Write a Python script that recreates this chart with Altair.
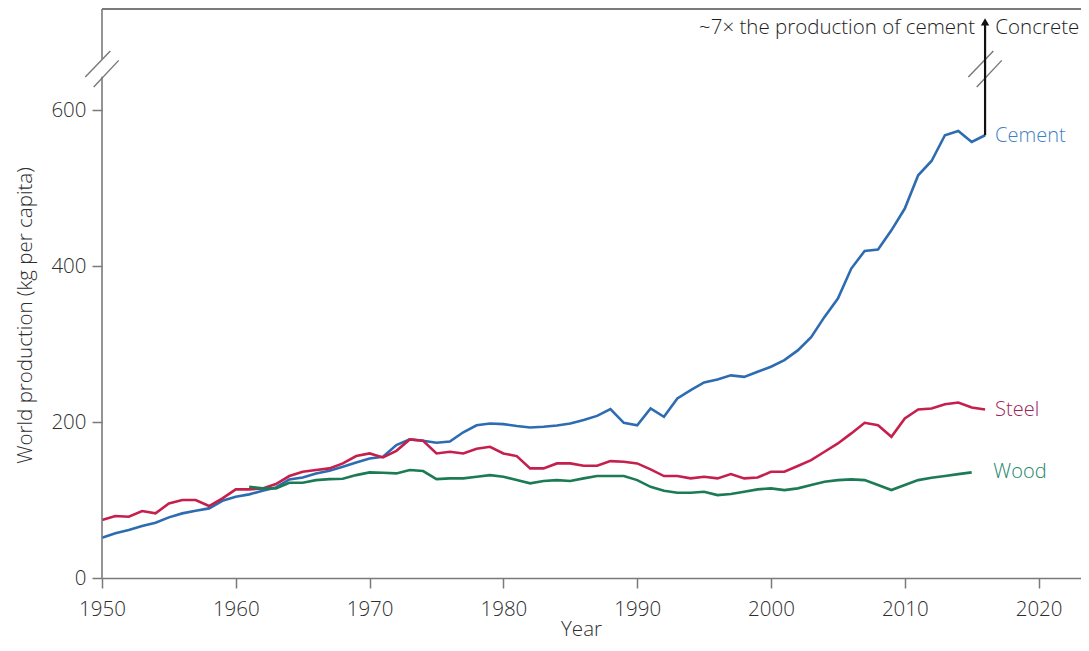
import altair as alt
import pandas as pd

# ---------------- data ----------------
cement_years = list(range(1950, 2017))
cement = [51.7, 57.3, 61.5, 66.7, 70.9, 77.8, 82.9, 86.3, 89.3, 99.1,
          104.3, 107.3, 112.0, 116.2, 126.5, 129.0, 134.2, 137.6, 142.7, 148.3,
          153.4, 155.6, 170.5, 177.8, 176.0, 173.5, 175.0, 187.0, 196.0, 198.3,
          197.4, 195.0, 193.0, 194.0, 195.7, 198.3, 202.6, 208.0, 216.7, 199.0,
          196.0, 217.5, 206.8, 230.3, 241.0, 250.9, 254.7, 260.0, 258.0, 264.5,
          271.0, 279.5, 292.0, 309.0, 335.0, 358.6, 397.0, 419.6, 421.4, 446.0,
          474.0, 516.7, 535.0, 568.0, 573.5, 559.4, 568.0]

steel_years = list(range(1950, 2017))
steel = [74.4, 79.5, 78.6, 85.9, 82.9, 95.7, 100.0, 100.0, 92.3, 102.1,
         113.7, 113.7, 115.0, 120.5, 130.8, 136.3, 138.5, 140.6, 147.0, 156.4,
         159.8, 154.7, 163.2, 177.8, 176.0, 159.8, 162.0, 159.8, 165.8, 168.4,
         159.8, 156.4, 140.6, 140.6, 147.0, 147.0, 144.0, 144.0, 150.0, 149.1,
         147.0, 139.3, 130.8, 130.8, 127.8, 129.9, 127.8, 133.3, 127.8, 129.0,
         136.3, 136.3, 143.6, 151.3, 162.0, 172.6, 185.5, 199.1, 196.0, 181.2,
         204.7, 216.2, 217.5, 223.0, 225.2, 218.8, 216.2]

wood_years = list(range(1961, 2016))
wood = [117.0, 115.0, 115.0, 122.2, 122.2, 125.6, 126.9, 127.4, 132.0,
        135.5, 135.0, 134.2, 138.5, 137.2, 126.9, 127.8, 127.8, 129.9, 132.0,
        129.9, 125.6, 121.4, 124.4, 125.6, 124.4, 127.8, 130.8, 130.8, 130.8,
        125.6, 117.0, 112.0, 109.4, 109.4, 110.7, 106.4, 107.7, 110.7, 113.7,
        115.0, 112.8, 115.0, 119.2, 123.5, 125.6, 126.5, 125.6, 119.2, 112.8,
        119.2, 125.6, 128.6, 130.8, 133.3, 135.5]

materials = ["Cement", "Steel", "Wood"]
line_colors = ["#2d6cb1", "#c51f4d", "#1c7b55"]
label_colors = ["#3f7fc4", "#9c2456", "#23866a"]
label_x = [2016.75, 2016.75, 2016.62]
label_y = [566.5, 215.5, 136.5]

x_ticks = [1950, 1960, 1970, 1980, 1990, 2000, 2010, 2020]
y_ticks = [0, 200, 400, 600]
x_domain = [1950, 2023.17]
y_domain = [0, 730]

X_TITLE = "Year"
Y_TITLE = "World production (kg per capita)"

concrete_year = 2016
arrow_top = 712
arrow_head = 713.5
note_texts = ["~7× the production of cement", "Concrete"]
note_x = [2015.25, 2016.77]
note_y = 706

# axis-break marks (year offsets and values)
break_dx_a = [-1.25, 0.62]
break_dx_b = [-0.62, 1.25]
break_y_a = [642.7, 676.0]
break_y_b = [629.9, 664.1]
axis_gap = [643.0, 666.0]

FONT = "Open Sans"
WEIGHT = 300
AXIS_GRAY = "#7a7a7a"
TEXT_GRAY = "#2e2e2e"

# ---------------- tables ----------------
lines_df = pd.concat([
    pd.DataFrame({"year": cement_years, "value": cement, "material": "Cement"}),
    pd.DataFrame({"year": steel_years, "value": steel, "material": "Steel"}),
    pd.DataFrame({"year": wood_years, "value": wood, "material": "Wood"}),
], ignore_index=True)

labels_df = pd.DataFrame({"material": materials, "x": label_x, "y": label_y,
                          "color": label_colors})

xs = alt.Scale(domain=x_domain, nice=False, zero=False)
ys = alt.Scale(domain=y_domain, nice=False, zero=False)


def X(field):
    return alt.X(field, scale=xs, title=X_TITLE)


def Y(field):
    return alt.Y(field, scale=ys, title=Y_TITLE)


lines = alt.Chart(lines_df).mark_line(strokeWidth=2.6).encode(
    x=alt.X("year:Q", scale=xs, title=X_TITLE, axis=alt.Axis(
        values=x_ticks, format="d", grid=False,
        domainColor=AXIS_GRAY, domainWidth=1.6, tickColor=AXIS_GRAY, tickWidth=1.5,
        tickSize=10, labelFont=FONT, labelFontSize=20.5, labelFontWeight=WEIGHT,
        labelColor=TEXT_GRAY,
        labelBaseline="alphabetic", labelPadding=27, labelFlush=False,
        titleFont=FONT, titleFontSize=20.5, titleFontWeight=WEIGHT,
        titleColor=TEXT_GRAY, titleX=479, titleY=57, titleBaseline="alphabetic")),
    y=alt.Y("value:Q", scale=ys, title=Y_TITLE, axis=alt.Axis(
        values=y_ticks, grid=False,
        domain=False, tickColor=AXIS_GRAY, tickWidth=1.5, tickSize=10,
        labelFont=FONT, labelFontSize=20.5, labelFontWeight=WEIGHT,
        labelColor=TEXT_GRAY, labelPadding=6,
        titleFont=FONT, titleFontSize=20.5, titleFontWeight=WEIGHT,
        titleColor=TEXT_GRAY, titleX=-71, titleY=306, titleBaseline="alphabetic")),
    color=alt.Color("material:N", scale=alt.Scale(domain=materials, range=line_colors),
                    legend=None),
    detail="material:N",
)

# left axis line, drawn in two pieces around the break
axis_df = pd.DataFrame({"x": [x_domain[0], x_domain[0]],
                        "y": [y_domain[0], axis_gap[1]],
                        "y2": [axis_gap[0], y_domain[1]]})
axis_line = alt.Chart(axis_df).mark_rule(color=AXIS_GRAY, strokeWidth=1.6).encode(
    x=X("x:Q"), y=Y("y:Q"), y2="y2:Q",
)

# top frame line
top_df = pd.DataFrame({"x": [x_domain[0]], "x2": [x_domain[1]], "y": [y_domain[1]]})
top_line = alt.Chart(top_df).mark_rule(color=AXIS_GRAY, strokeWidth=2).encode(
    x=X("x:Q"), x2="x2:Q", y=Y("y:Q"),
)

# concrete arrow
arrow_df = pd.DataFrame({"x": [concrete_year], "y": [cement[-1]], "y2": [arrow_top]})
arrow = alt.Chart(arrow_df).mark_rule(color="#111111", strokeWidth=2.2).encode(
    x=X("x:Q"), y=Y("y:Q"), y2="y2:Q",
)
head_df = pd.DataFrame({"x": [concrete_year], "y": [arrow_head]})
head = alt.Chart(head_df).mark_point(shape="triangle-up", filled=True, size=70,
                                     color="#111111", opacity=1).encode(
    x=X("x:Q"), y=Y("y:Q"),
)

# break marks on y axis and on arrow
brk_rows = []
for cx in [x_domain[0], concrete_year]:
    brk_rows.append({"x": cx + break_dx_a[0], "x2": cx + break_dx_a[1],
                     "y": break_y_a[0], "y2": break_y_a[1]})
    brk_rows.append({"x": cx + break_dx_b[0], "x2": cx + break_dx_b[1],
                     "y": break_y_b[0], "y2": break_y_b[1]})
brk_df = pd.DataFrame(brk_rows)
breaks = alt.Chart(brk_df).mark_rule(strokeWidth=1.4, color="#777777").encode(
    x=X("x:Q"), x2="x2:Q", y=Y("y:Q"), y2="y2:Q",
)

# series labels
labels = alt.Chart(labels_df).mark_text(align="left", baseline="middle",
                                        font=FONT, fontSize=20,
                                        fontWeight=WEIGHT).encode(
    x=X("x:Q"), y=Y("y:Q"),
    text="material:N",
    color=alt.Color("color:N", scale=None),
)

# concrete annotation
note_left = alt.Chart(pd.DataFrame({"t": [note_texts[0]], "x": [note_x[0]], "y": [note_y]})
                      ).mark_text(align="right", baseline="middle", font=FONT,
                                  fontSize=20.5, fontWeight=WEIGHT,
                                  color="#1e1e1e").encode(
    x=X("x:Q"), y=Y("y:Q"), text="t:N")
note_right = alt.Chart(pd.DataFrame({"t": [note_texts[1]], "x": [note_x[1]], "y": [note_y]})
                       ).mark_text(align="left", baseline="middle", font=FONT,
                                   fontSize=20.5, fontWeight=WEIGHT,
                                   color="#1e1e1e").encode(
    x=X("x:Q"), y=Y("y:Q"), text="t:N")

chart = alt.layer(
    lines, axis_line, top_line, breaks, arrow, head, labels, note_left, note_right
).properties(
    width=979, height=569,
    autosize=alt.AutoSizeParams(type="none"),
    padding={"left": 94, "top": 1, "right": 0, "bottom": 64},
    background="white",
).configure_view(stroke=None)

chart.save("out.html", embed_options={"renderer": "svg", "actions": False})
